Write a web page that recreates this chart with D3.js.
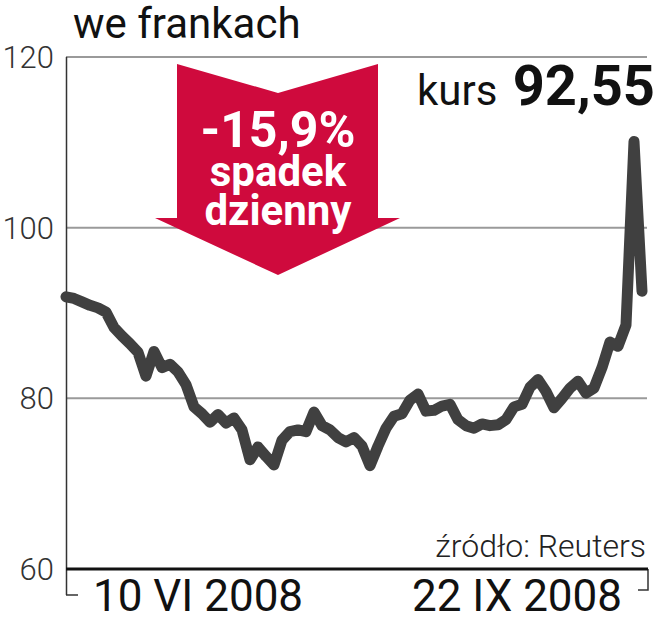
<!DOCTYPE html>
<meta charset="utf-8">
<style>
body { margin: 0; background: #fff; }
svg { display: block; }
.lbl { font-family: Roboto, "Liberation Sans", sans-serif; }
</style>
<svg width="659" height="640"></svg>
<script src="https://d3js.org/d3.v7.min.js"></script>
<script>

// daily closing price (francs), 10 VI 2008 .. 22 IX 2008
var prices = [91.9, 91.7, 91.3, 90.9, 90.6, 90.1, 88.3, 87.3, 86.4, 85.4,
  82.6, 85.5, 83.6, 84.0, 83.1, 81.6, 79.0, 78.2, 77.2, 78.1,
  77.1, 77.7, 76.3, 72.8, 74.3, 73.2, 72.2, 75.1, 76.1, 76.3,
  76.1, 78.4, 76.8, 76.3, 75.4, 74.9, 75.4, 74.4, 72.1, 74.4,
  76.5, 77.9, 78.2, 79.8, 80.5, 78.5, 78.6, 79.1, 79.3, 77.5,
  76.8, 76.5, 77.0, 76.8, 76.9, 77.5, 79.0, 79.3, 81.3, 82.2,
  80.8, 78.9, 80.0, 81.2, 82.0, 80.6, 81.2, 83.6, 86.6, 86.1,
  88.6, 110.1, 92.55];
var yTicks = [60, 80, 100, 120];
var dateLabels = ["10 VI 2008", "22 IX 2008"];
var lastPrice = "92,55";
var dailyDrop = "-15,9%";

var svg = d3.select("svg");

var x = d3.scaleLinear().domain([0, prices.length - 1]).range([66, 642]);
var y = d3.scaleLinear().domain([60, 120]).range([569, 57]);

// title
svg.append("text").attr("class", "lbl")
    .attr("x", 73).attr("y", 38)
    .attr("font-size", 42).attr("fill", "#111")
    .text("we frankach");

// grid lines
svg.selectAll(".grid")
  .data(yTicks.filter(function(d) { return d > 60; }))
  .enter().append("line")
    .attr("x1", 66).attr("x2", 647)
    .attr("y1", function(d) { return y(d); })
    .attr("y2", function(d) { return y(d); })
    .attr("stroke", "#9a9a9a").attr("stroke-width", 2);

// y axis line
svg.append("line")
    .attr("x1", 66.5).attr("x2", 66.5)
    .attr("y1", y(120)).attr("y2", 595)
    .attr("stroke", "#333").attr("stroke-width", 1.5);
svg.append("line")
    .attr("x1", 66).attr("x2", 78)
    .attr("y1", 595).attr("y2", 595)
    .attr("stroke", "#333").attr("stroke-width", 1.5);
// right bracket
svg.append("polyline")
    .attr("points", "648,569 648,590 638,590")
    .attr("fill", "none")
    .attr("stroke", "#333").attr("stroke-width", 1.5);

// y tick labels
svg.selectAll(".ytick")
  .data(yTicks)
  .enter().append("text")
    .attr("class", "lbl")
    .attr("x", 54)
    .attr("y", function(d) { return y(d); })
    .attr("dy", "0.36em")
    .attr("text-anchor", "end")
    .attr("font-size", 31).attr("font-weight", 300)
    .attr("fill", "#333")
    .text(function(d) { return d; });

// base line
svg.append("line")
    .attr("x1", 66).attr("x2", 648)
    .attr("y1", y(60)).attr("y2", y(60))
    .attr("stroke", "#111").attr("stroke-width", 3);

// arrow annotation
var arrow = [[177, 64], [278, 93], [378, 64], [378, 218], [400, 218],
             [278, 275], [155, 218], [177, 218]];
svg.append("polygon")
    .attr("points", arrow.map(function(p) { return p.join(","); }).join(" "))
    .attr("fill", "#cf0a3d");

var arrowText = [
  {t: dailyDrop, dy: 0, s: 50},
  {t: "spadek", dy: 39, s: 42},
  {t: "dzienny", dy: 39, s: 42}
];
svg.append("text")
    .attr("class", "lbl")
    .attr("y", 147)
    .attr("text-anchor", "middle")
    .attr("font-weight", 700)
    .attr("fill", "#fff")
  .selectAll("tspan")
  .data(arrowText)
  .enter().append("tspan")
    .attr("x", 278)
    .attr("dy", function(d) { return d.dy; })
    .attr("font-size", function(d) { return d.s; })
    .text(function(d) { return d.t; });

// kurs
svg.append("text").attr("class", "lbl")
    .attr("x", 417).attr("y", 105)
    .attr("font-size", 42).attr("fill", "#111")
    .text("kurs");
svg.append("text").attr("class", "lbl")
    .attr("x", 655).attr("y", 105)
    .attr("text-anchor", "end")
    .attr("font-size", 56).attr("font-weight", 700).attr("fill", "#111")
    .text(lastPrice);

// price line
var line = d3.line()
    .x(function(d, i) { return x(i); })
    .y(function(d) { return y(d); });

svg.append("path")
    .datum(prices)
    .attr("d", line)
    .attr("fill", "none")
    .attr("stroke", "#404040")
    .attr("stroke-width", 11)
    .attr("stroke-linejoin", "round")
    .attr("stroke-linecap", "round");

// source
svg.append("text").attr("class", "lbl")
    .attr("x", 646).attr("y", 557)
    .attr("text-anchor", "end")
    .attr("font-size", 32).attr("font-weight", 300).attr("fill", "#222")
    .text("źródło: Reuters");

// date labels
svg.selectAll(".xlab")
  .data(dateLabels)
  .enter().append("text")
    .attr("class", "lbl")
    .attr("x", function(d, i) { return i === 0 ? 198 : 517; })
    .attr("y", 611)
    .attr("text-anchor", "middle")
    .attr("font-size", 44).attr("fill", "#111")
    .text(function(d) { return d; });

</script>
